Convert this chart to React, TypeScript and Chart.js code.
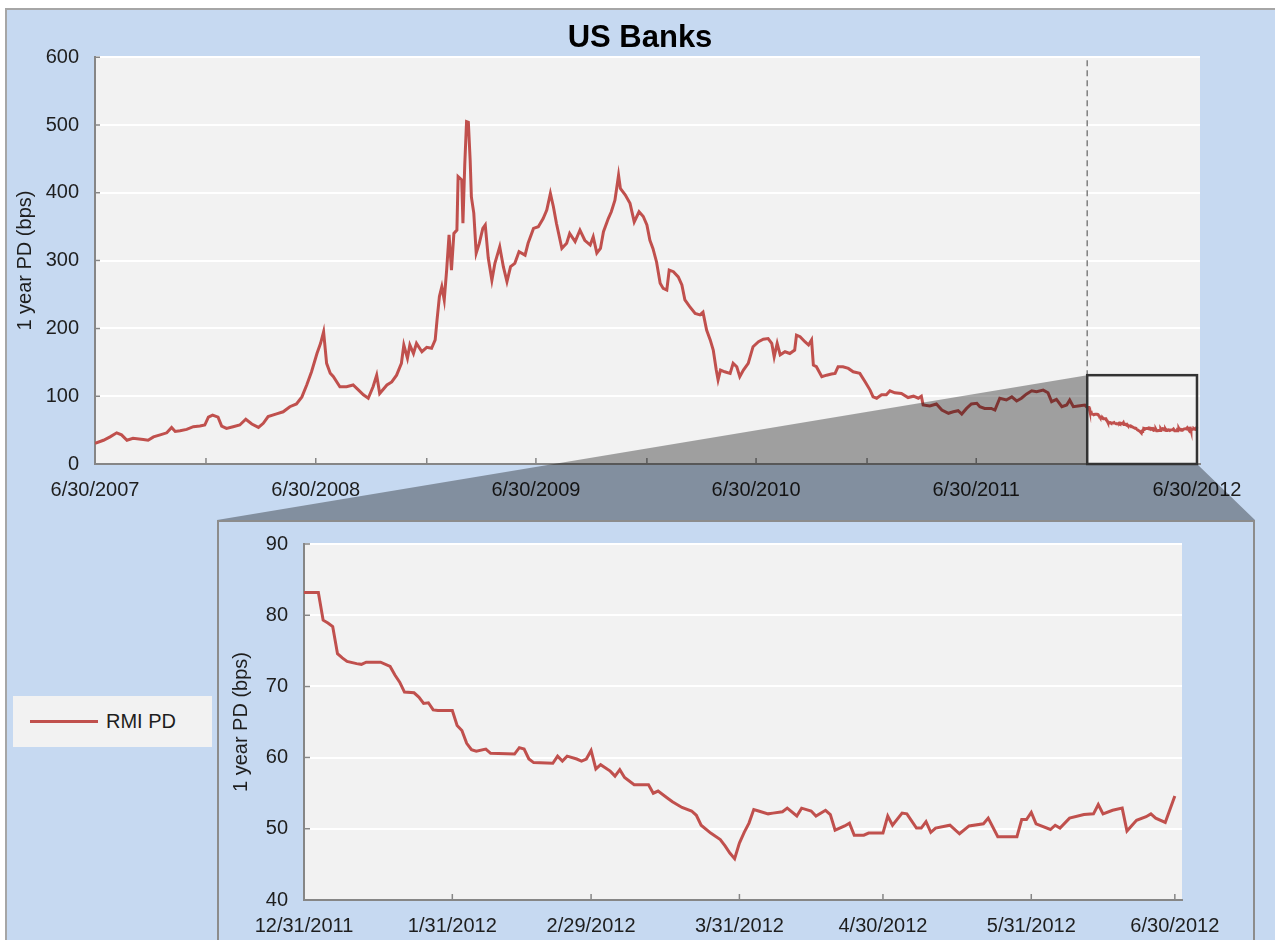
import React, { useEffect, useRef } from 'react';
import { Chart, registerables } from 'chart.js';

Chart.register(...registerables);

// ---------- data ----------
const chartTitle = 'US Banks';
const yAxisTitle = '1 year PD (bps)';
const seriesName = 'RMI PD';

const mainStart = '6/30/2007';
const mainTickLabels = ['6/30/2007', '6/30/2008', '6/30/2009', '6/30/2010', '6/30/2011', '6/30/2012'];
const mainMinorTickDates = ['12/31/2007', '12/31/2008', '12/31/2009', '12/31/2010', '12/31/2011'];
const mainYTicks = [0, 100, 200, 300, 400, 500, 600];

// days after 6/30/2007 and 1-year PD (bps), up to the zoom window
const mainDays = [0, 14, 25, 36, 44, 53, 63, 80, 88, 97, 108, 119, 127, 133, 141, 152, 163, 174, 182, 188, 195, 204, 210, 218, 229, 240, 250, 260, 271, 279, 287, 301, 312, 323, 334, 343, 351, 359, 368, 374, 379, 384, 390, 395, 406, 417, 428, 437, 445, 453, 461, 467, 472, 484, 492, 500, 508, 512, 518, 522, 528, 533, 542, 550, 558, 564, 567, 571, 575, 579, 583, 587, 591, 595, 600, 602, 608, 610, 613, 616, 619, 622, 624, 628, 632, 637, 643, 647, 652, 658, 663, 671, 677, 683, 689, 696, 703, 713, 718, 727, 735, 743, 749, 755, 760, 765, 774, 782, 787, 796, 804, 812, 821, 826, 832, 838, 843, 851, 856, 862, 868, 871, 879, 887, 894, 902, 909, 915, 920, 925, 931, 937, 942, 948, 952, 959, 967, 973, 978, 986, 995, 1003, 1008, 1014, 1020, 1025, 1030, 1033, 1037, 1044, 1053, 1058, 1064, 1069, 1075, 1083, 1091, 1100, 1108, 1116, 1122, 1126, 1131, 1136, 1144, 1152, 1160, 1163, 1169, 1177, 1183, 1188, 1191, 1196, 1205, 1213, 1221, 1227, 1232, 1240, 1249, 1257, 1268, 1277, 1285, 1290, 1296, 1304, 1312, 1318, 1326, 1337, 1348, 1357, 1365, 1370, 1373, 1384, 1395, 1404, 1415, 1423, 1431, 1437, 1445, 1453, 1462, 1467, 1475, 1486, 1492, 1500, 1511, 1520, 1528, 1536, 1544, 1553, 1561, 1572, 1580, 1586, 1594, 1603, 1611, 1616, 1622, 1630, 1641];
const mainPD = [30.5, 35, 40, 46, 43, 35, 38, 36, 35, 40, 43, 46, 54, 48, 49, 51, 55, 56, 57.5, 69, 72, 69, 56, 52.6, 55, 57.5, 66, 59, 54, 60, 70, 74, 77, 84.5, 88.5, 99, 116.5, 136, 163, 178, 195, 148.5, 134, 129, 114, 114, 116.5, 109, 102, 97, 114, 131, 104, 116.5, 121, 131, 148.5, 175.5, 156, 175.5, 163, 178, 165.6, 172, 170.6, 183, 212, 247, 261.5, 242, 286, 338, 286, 340, 345, 424, 419, 355, 441, 505, 504, 448, 394, 370, 311, 325, 347.5, 352.5, 303.7, 271, 296, 320.5, 291, 269, 291, 296, 313, 308, 325.5, 347.5, 350, 362, 374.6, 399, 379.5, 355, 318, 325.5, 340, 328, 345, 330, 323, 335, 311, 318, 342.6, 362, 372, 389, 426, 406.6, 397, 384.5, 357, 372, 365, 352.5, 330, 318, 298, 266.5, 259, 256.6, 286, 283.6, 276, 264, 242, 232, 222, 220, 224, 197.6, 183, 168, 138.6, 124, 138.6, 136, 133.7, 148.5, 143.5, 128.8, 138.6, 148.5, 173, 180.4, 184, 185, 178, 158, 178, 161, 165.6, 163, 168, 190, 187.8, 180.4, 175.5, 183, 146, 143.5, 128.8, 131, 132.7, 133.7, 143.5, 143.5, 141, 136, 133.7, 121, 109, 99, 97, 102, 102, 108, 105, 104, 98, 100, 97, 100, 87, 85.5, 88.5, 79.6, 74.8, 77, 78.6, 73.7, 82, 88.5, 89.5, 84.5, 82, 82, 79.6, 97, 94.4, 99, 93, 97, 103, 108, 106.6, 109, 105, 92, 95.4, 84.5, 87, 94.4, 84.5, 85.5, 87];

// zoom window
const zoomStart = '12/31/2011';
const zoomEnd = '6/30/2012';
const zoomBoxTopPD = 131;

const insetTickLabels = ['12/31/2011', '1/31/2012', '2/29/2012', '3/31/2012', '4/30/2012', '5/31/2012', '6/30/2012'];
const insetYTicks = [40, 50, 60, 70, 80, 90];
// days after 12/31/2011 and 1-year PD (bps)
const insetDays = [0, 3, 4, 5, 6, 7, 8, 9, 11, 12, 13, 16, 18, 19, 20, 21, 23, 24, 25, 26, 27, 28, 31, 32, 33, 34, 35, 36, 38, 39, 44, 45, 46, 47, 48, 52, 53, 54, 55, 57, 58, 59, 60, 61, 62, 64, 65, 66, 67, 69, 72, 73, 74, 76, 77, 79, 81, 82, 83, 85, 87, 88, 89, 90, 91, 92, 93, 94, 95, 97, 98, 100, 101, 103, 104, 106, 107, 109, 110, 111, 113, 114, 115, 117, 118, 121, 122, 123, 125, 126, 128, 129, 130, 131, 132, 135, 137, 139, 142, 143, 145, 149, 150, 151, 152, 153, 156, 157, 158, 160, 163, 165, 166, 167, 169, 171, 172, 174, 176, 177, 178, 180, 182];
const insetPD = [83.2, 83.2, 79.3, 78.9, 78.4, 74.6, 74.0, 73.5, 73.2, 73.1, 73.4, 73.4, 72.8, 71.6, 70.6, 69.2, 69.1, 68.5, 67.6, 67.7, 66.7, 66.6, 66.6, 64.5, 63.8, 62.0, 61.1, 60.9, 61.2, 60.6, 60.5, 61.4, 61.2, 59.8, 59.3, 59.2, 60.2, 59.5, 60.2, 59.8, 59.5, 59.8, 61.0, 58.4, 59.0, 58.1, 57.4, 58.3, 57.2, 56.2, 56.2, 55.0, 55.3, 54.3, 53.8, 53.0, 52.5, 51.9, 50.5, 49.4, 48.5, 47.6, 46.6, 45.8, 48.0, 49.5, 50.8, 52.7, 52.5, 52.1, 52.2, 52.4, 52.9, 51.8, 52.9, 52.5, 51.8, 52.6, 52.0, 49.8, 50.4, 50.8, 49.1, 49.1, 49.4, 49.4, 51.8, 50.5, 52.2, 52.1, 50.1, 50.1, 51.0, 49.5, 50.1, 50.5, 49.3, 50.4, 50.7, 51.5, 48.9, 48.9, 51.3, 51.3, 52.3, 50.7, 49.9, 50.5, 50.1, 51.5, 52.0, 52.1, 53.4, 52.1, 52.6, 52.9, 49.7, 51.2, 51.7, 52.1, 51.5, 50.9, 54.6];

// ---------- styling ----------
const FONT = "Arial, 'Liberation Sans', sans-serif";
const RED = '#c0504d';
const PANEL_BLUE = '#c6d9f1';
const PLOT_BG = '#f2f2f2';
const AXIS_GREY = '#868686';
const TEXT = '#1e1e1e';

const MAIN = { left: 5, top: 8, width: 1270, height: 512 };
const INSET_PANEL = { left: 217, top: 520, width: 1038 };
const INSET = { left: 219, top: 516, width: 1034, height: 424 };

function dayOf(s: string): number {
  const [m, d, y] = s.split('/').map(Number);
  return Math.round(Date.UTC(y, m - 1, d) / 86400000);
}

const mainStartDay = dayOf(mainStart);
const zoomStartDay = dayOf(zoomStart) - mainStartDay;
const zoomEndDay = dayOf(zoomEnd) - mainStartDay;
const mainTickDays = mainTickLabels.map((s) => dayOf(s) - mainStartDay);
const mainMinorDays = mainMinorTickDates.map((s) => dayOf(s) - mainStartDay);
const insetTickDays = insetTickLabels.map((s) => dayOf(s) - dayOf(zoomStart));

const mainPoints = [
  ...mainDays.map((d, i) => ({ x: d, y: mainPD[i] })),
  ...insetDays.map((d, i) => ({ x: zoomStartDay + d, y: insetPD[i] })),
];
const insetPoints = insetDays.map((d, i) => ({ x: d, y: insetPD[i] }));

const plotBg = {
  id: 'plotBg',
  beforeDraw(chart: any) {
    const { ctx, chartArea: a } = chart;
    ctx.save();
    ctx.fillStyle = PLOT_BG;
    ctx.fillRect(a.left, a.top, a.right - a.left, a.bottom - a.top);
    ctx.restore();
  },
};

const mainDecor = {
  id: 'mainDecor',
  afterDraw(chart: any) {
    const { ctx, chartArea: a, scales } = chart;
    const x = scales.x;
    const y = scales.y;
    ctx.save();
    // inside tick marks
    ctx.strokeStyle = AXIS_GREY;
    ctx.lineWidth = 1.5;
    ctx.beginPath();
    mainYTicks.forEach((v) => {
      const py = y.getPixelForValue(v);
      ctx.moveTo(a.left, py);
      ctx.lineTo(a.left + 5, py);
    });
    [...mainTickDays, ...mainMinorDays].forEach((d) => {
      const px = x.getPixelForValue(d);
      ctx.moveTo(px, a.bottom);
      ctx.lineTo(px, a.bottom - 6);
    });
    ctx.stroke();

    const xs = x.getPixelForValue(zoomStartDay);
    const xe = x.getPixelForValue(zoomEndDay);
    const yt = y.getPixelForValue(zoomBoxTopPD);
    const yb = y.getPixelForValue(0);

    // dashed marker
    ctx.strokeStyle = '#7f7f7f';
    ctx.lineWidth = 1.5;
    ctx.setLineDash([6, 4]);
    ctx.beginPath();
    ctx.moveTo(xs, a.top + 3);
    ctx.lineTo(xs, yt);
    ctx.stroke();
    ctx.setLineDash([]);

    // zoom funnel
    const H = chart.height;
    ctx.fillStyle = 'rgba(0,0,0,0.34)';
    ctx.beginPath();
    ctx.moveTo(xs, yt);
    ctx.lineTo(INSET_PANEL.left - MAIN.left, H);
    ctx.lineTo(INSET_PANEL.left + INSET_PANEL.width - MAIN.left, H);
    ctx.lineTo(xe, yb);
    ctx.lineTo(xs, yb);
    ctx.closePath();
    ctx.fill();

    // zoom box
    ctx.strokeStyle = '#333333';
    ctx.lineWidth = 2.5;
    ctx.strokeRect(xs, yt, xe - xs, yb - yt);
    ctx.restore();
  },
};

const insetDecor = {
  id: 'insetDecor',
  afterDraw(chart: any) {
    const { ctx, chartArea: a, scales } = chart;
    ctx.save();
    ctx.strokeStyle = AXIS_GREY;
    ctx.lineWidth = 1.5;
    ctx.beginPath();
    insetYTicks.forEach((v) => {
      const py = scales.y.getPixelForValue(v);
      ctx.moveTo(a.left, py);
      ctx.lineTo(a.left + 6, py);
    });
    insetTickDays.forEach((d) => {
      const px = scales.x.getPixelForValue(d);
      ctx.moveTo(px, a.bottom);
      ctx.lineTo(px, a.bottom - 6);
    });
    ctx.stroke();
    ctx.restore();
  },
};

const tickFont = { family: FONT, size: 20 };

export default function App() {
  const mainRef = useRef<HTMLCanvasElement>(null);
  const insetRef = useRef<HTMLCanvasElement>(null);

  useEffect(() => {
    const main = new Chart(mainRef.current as HTMLCanvasElement, {
      type: 'line',
      data: {
        datasets: [
          {
            label: seriesName,
            data: mainPoints as any,
            borderColor: RED,
            borderWidth: 3,
            pointRadius: 0,
            tension: 0,
            fill: false,
          },
        ],
      },
      options: {
        animation: false,
        responsive: false,
        maintainAspectRatio: false,
        layout: { padding: { left: 0, right: 0, top: 0, bottom: 0 } },
        plugins: {
          legend: { display: false },
          tooltip: { enabled: false },
          title: {
            display: true,
            text: chartTitle,
            color: '#000',
            font: { family: FONT, size: 31, weight: 'bold' },
            padding: { top: 12, bottom: 0 },
          },
        },
        scales: {
          x: {
            type: 'linear',
            min: 0,
            max: zoomEndDay + 5,
            afterBuildTicks: (s: any) => {
              s.ticks = mainTickDays.map((v) => ({ value: v }));
            },
            afterFit: (s: any) => {
              s.height = 56;
            },
            ticks: {
              callback: (_v: any, i: number) => mainTickLabels[i],
              autoSkip: false,
              maxRotation: 0,
              minRotation: 0,
              padding: 14,
              color: TEXT,
              font: tickFont,
            },
            grid: { display: false, drawTicks: false },
            border: { color: AXIS_GREY, width: 2 },
          },
          y: {
            min: 0,
            max: 600,
            afterBuildTicks: (s: any) => {
              s.ticks = mainYTicks.map((v) => ({ value: v }));
            },
            afterFit: (s: any) => {
              s.width = 90;
            },
            ticks: { padding: 16, color: TEXT, font: tickFont },
            grid: {
              drawTicks: false,
              lineWidth: 2,
              color: (c: any) => (c.tick && c.tick.value === 0 ? 'rgba(0,0,0,0)' : '#ffffff'),
            },
            border: { color: AXIS_GREY, width: 2 },
            title: {
              display: true,
              text: yAxisTitle,
              color: TEXT,
              font: { family: FONT, size: 20 },
              padding: { top: 8, bottom: 0 },
            },
          },
          // empty right margin so the title centres on the whole panel
          rightMargin: {
            type: 'linear',
            position: 'right',
            display: true,
            min: 0,
            max: 1,
            grid: { display: false, drawTicks: false },
            ticks: { display: false },
            border: { display: false },
            afterFit: (s: any) => {
              s.width = 75;
            },
          },
        },
      },
      plugins: [plotBg, mainDecor],
    });

    const inset = new Chart(insetRef.current as HTMLCanvasElement, {
      type: 'line',
      data: {
        datasets: [
          {
            label: seriesName,
            data: insetPoints as any,
            borderColor: RED,
            borderWidth: 3,
            pointRadius: 0,
            tension: 0,
            fill: false,
          },
        ],
      },
      options: {
        animation: false,
        responsive: false,
        maintainAspectRatio: false,
        layout: { padding: { left: 0, right: 71, top: 15, bottom: 0 } },
        plugins: {
          legend: { display: false },
          tooltip: { enabled: false },
          title: { display: false },
        },
        scales: {
          x: {
            type: 'linear',
            min: 0,
            max: insetTickDays[insetTickDays.length - 1] + 1.5,
            afterBuildTicks: (s: any) => {
              s.ticks = insetTickDays.map((v) => ({ value: v }));
            },
            afterFit: (s: any) => {
              s.height = 40;
            },
            ticks: {
              callback: (_v: any, i: number) => insetTickLabels[i],
              autoSkip: false,
              maxRotation: 0,
              minRotation: 0,
              padding: 14,
              color: TEXT,
              font: tickFont,
            },
            grid: { display: false, drawTicks: false },
            border: { color: AXIS_GREY, width: 2 },
          },
          y: {
            min: 40,
            max: 90,
            afterBuildTicks: (s: any) => {
              s.ticks = insetYTicks.map((v) => ({ value: v }));
            },
            afterFit: (s: any) => {
              s.width = 85;
            },
            ticks: { padding: 16, color: TEXT, font: tickFont },
            grid: {
              drawTicks: false,
              lineWidth: 2,
              color: (c: any) => (c.tick && c.tick.value === 40 ? 'rgba(0,0,0,0)' : '#ffffff'),
            },
            border: { color: AXIS_GREY, width: 2 },
            title: {
              display: true,
              text: yAxisTitle,
              color: TEXT,
              font: { family: FONT, size: 20 },
              padding: { top: 10, bottom: 0 },
            },
          },
        },
      },
      plugins: [plotBg, insetDecor],
    });

    return () => {
      main.destroy();
      inset.destroy();
    };
  }, []);

  return (
    <div
      style={{
        position: 'fixed',
        left: 0,
        top: 0,
        width: 1275,
        height: 940,
        overflow: 'hidden',
        background: '#ffffff',
        fontFamily: FONT,
      }}
    >
      <div
        style={{
          position: 'absolute',
          left: MAIN.left,
          top: MAIN.top,
          width: 1290,
          height: 960,
          background: PANEL_BLUE,
          borderTop: '2px solid #a6a6a6',
          borderLeft: '2px solid #a6a6a6',
          boxSizing: 'border-box',
        }}
      />
      <div
        style={{
          position: 'absolute',
          left: INSET_PANEL.left,
          top: INSET_PANEL.top,
          width: INSET_PANEL.width,
          height: 440,
          background: PANEL_BLUE,
          border: '2px solid #8c8c8c',
          boxSizing: 'border-box',
        }}
      />
      <canvas
        ref={mainRef}
        width={MAIN.width}
        height={MAIN.height}
        style={{ position: 'absolute', left: MAIN.left, top: MAIN.top, width: MAIN.width, height: MAIN.height }}
      />
      <canvas
        ref={insetRef}
        width={INSET.width}
        height={INSET.height}
        style={{ position: 'absolute', left: INSET.left, top: INSET.top, width: INSET.width, height: INSET.height }}
      />
      <div
        style={{
          position: 'absolute',
          left: 13,
          top: 696,
          width: 199,
          height: 51,
          background: PLOT_BG,
        }}
      >
        <div style={{ position: 'absolute', left: 17, top: 24, width: 68, height: 3, background: RED }} />
        <div
          style={{
            position: 'absolute',
            left: 93,
            top: 13,
            fontSize: 20,
            lineHeight: '24px',
            color: TEXT,
            whiteSpace: 'nowrap',
          }}
        >
          {seriesName}
        </div>
      </div>
    </div>
  );
}
